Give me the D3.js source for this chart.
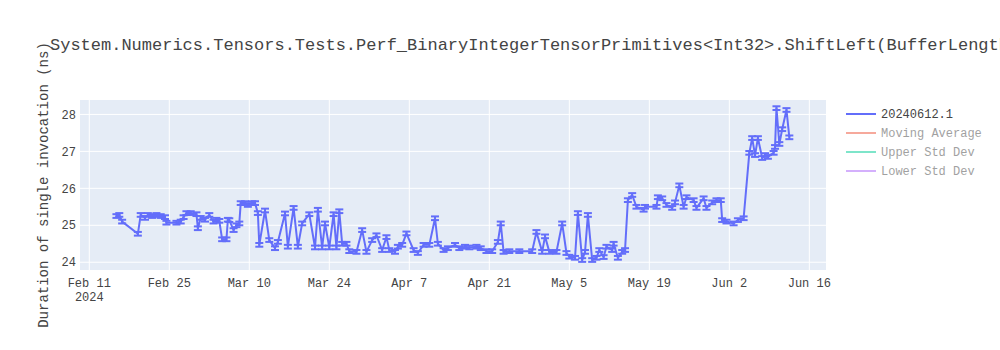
<!DOCTYPE html>
<html>
<head>
<meta charset="utf-8">
<script src="https://cdn.jsdelivr.net/npm/d3@7"></script>
<style>
  body { margin: 0; background: #fff; }
  text { font-family: "Liberation Mono", "Courier New", monospace; fill: #444; }
</style>
</head>
<body>
<div id="chart"></div>
<script>
// one run per point: date (day + hour) and mean duration in ns
const DATES = [
  "2024-02-15 18","2024-02-16 06","2024-02-16 18","2024-02-19 12","2024-02-20 00","2024-02-20 18","2024-02-21 06","2024-02-22 00",
  "2024-02-22 18","2024-02-23 12","2024-02-24 06","2024-02-24 12","2024-02-26 06","2024-02-27 00","2024-02-27 12","2024-02-28 00",
  "2024-02-28 18","2024-02-29 18","2024-03-01 00","2024-03-01 12","2024-03-02 06","2024-03-03 00","2024-03-03 18","2024-03-04 06",
  "2024-03-04 18","2024-03-05 06","2024-03-06 00","2024-03-06 06","2024-03-06 12","2024-03-07 06","2024-03-07 18","2024-03-08 06",
  "2024-03-08 12","2024-03-09 06","2024-03-09 18","2024-03-10 12","2024-03-11 00","2024-03-11 12","2024-03-11 18","2024-03-12 18",
  "2024-03-13 12","2024-03-14 12","2024-03-15 00","2024-03-16 06","2024-03-16 18","2024-03-17 18","2024-03-18 12","2024-03-19 06",
  "2024-03-20 12","2024-03-21 12","2024-03-22 00","2024-03-22 18","2024-03-23 06","2024-03-24 00","2024-03-24 18","2024-03-25 06",
  "2024-03-25 18","2024-03-26 06","2024-03-27 00","2024-03-27 12","2024-03-28 18","2024-03-29 18","2024-03-30 12","2024-03-31 12",
  "2024-04-01 06","2024-04-02 06","2024-04-03 00","2024-04-03 12","2024-04-04 12","2024-04-05 00","2024-04-05 18","2024-04-06 12",
  "2024-04-07 18","2024-04-08 12","2024-04-09 12","2024-04-10 12","2024-04-11 12","2024-04-12 00","2024-04-13 00","2024-04-13 18",
  "2024-04-15 00","2024-04-15 18","2024-04-16 18","2024-04-17 12","2024-04-18 18","2024-04-19 12","2024-04-20 12","2024-04-21 12",
  "2024-04-22 12","2024-04-23 00","2024-04-23 12","2024-04-24 12","2024-04-26 06","2024-04-28 12","2024-04-29 06","2024-04-30 06",
  "2024-04-30 18","2024-05-01 12","2024-05-02 18","2024-05-03 18","2024-05-04 12","2024-05-05 00","2024-05-06 00","2024-05-06 12",
  "2024-05-07 06","2024-05-07 18","2024-05-08 06","2024-05-09 00","2024-05-09 18","2024-05-10 06","2024-05-11 00","2024-05-11 12",
  "2024-05-12 12","2024-05-12 18","2024-05-13 12","2024-05-14 06","2024-05-14 18","2024-05-15 06","2024-05-16 00","2024-05-16 18",
  "2024-05-18 00","2024-05-18 06","2024-05-20 06","2024-05-20 12","2024-05-21 06","2024-05-22 00","2024-05-23 00","2024-05-23 12",
  "2024-05-24 06","2024-05-25 00","2024-05-25 12","2024-05-26 18","2024-05-27 06","2024-05-28 12","2024-05-29 00","2024-05-30 00",
  "2024-05-30 18","2024-05-31 12","2024-05-31 18","2024-06-01 12","2024-06-02 18","2024-06-03 12","2024-06-04 12","2024-06-05 12",
  "2024-06-06 00","2024-06-06 12","2024-06-07 00","2024-06-07 18","2024-06-08 06","2024-06-08 18","2024-06-09 18","2024-06-10 00",
  "2024-06-10 06","2024-06-10 18","2024-06-11 06","2024-06-12 00","2024-06-12 12"
];
const VALUES = [
  25.25, 25.28, 25.10, 24.77, 25.28, 25.20, 25.28, 25.25,
  25.28, 25.25, 25.22, 25.07, 25.07, 25.10, 25.22, 25.33,
  25.33, 25.30, 24.92, 25.20, 25.15, 25.28, 25.10, 25.15,
  25.12, 24.62, 24.62, 25.15, 25.14, 24.87, 25.00, 25.05,
  25.60, 25.60, 25.55, 25.60, 25.60, 25.33, 24.47, 25.40,
  24.60, 24.38, 24.55, 25.32, 24.42, 25.47, 24.42, 25.05,
  25.30, 24.40, 25.42, 24.40, 25.05, 24.40, 25.30, 24.40,
  25.38, 24.50, 24.50, 24.30, 24.28, 24.87, 24.28, 24.60,
  24.73, 24.33, 24.68, 24.33, 24.28, 24.42, 24.47, 24.78,
  24.33, 24.25, 24.47, 24.47, 25.19, 24.50, 24.33, 24.38,
  24.47, 24.38, 24.42, 24.40, 24.42, 24.38, 24.30, 24.30,
  24.55, 25.05, 24.28, 24.30, 24.30, 24.30, 24.82, 24.28,
  24.70, 24.28, 24.28, 25.05, 24.25, 24.15, 24.12, 25.33,
  24.06, 24.28, 25.28, 24.06, 24.12, 24.33, 24.14, 24.42,
  24.33, 24.50, 24.12, 24.28, 24.33, 25.68, 25.82, 25.50,
  25.42, 25.50, 25.50, 25.76, 25.73, 25.55, 25.47, 25.62,
  26.08, 25.50, 25.76, 25.68, 25.47, 25.73, 25.47, 25.62,
  25.68, 25.68, 25.14, 25.10, 25.05, 25.14, 25.19, 26.96,
  27.36, 26.90, 27.36, 26.82, 26.90, 26.85, 26.96, 27.12,
  28.17, 27.20, 27.60, 28.12, 27.38
];
const ERR = 0.05;   // half-length of each error bar (ns)

const X_TICKS = ["2024-02-11 00","2024-02-25 00","2024-03-10 00","2024-03-24 00","2024-04-07 00",
                 "2024-04-21 00","2024-05-05 00","2024-05-19 00","2024-06-02 00","2024-06-16 00"];
const Y_TICKS = [24, 25, 26, 27, 28];

const LEGEND_NAMES  = ["20240612.1", "Moving Average", "Upper Std Dev", "Lower Std Dev"];
const LEGEND_COLORS = ["#636efa", "#EF553B", "#00cc96", "#ab63fa"];
const LEGEND_ON     = [true, false, false, false];

const TITLE = "System.Numerics.Tensors.Tests.Perf_BinaryIntegerTensorPrimitives<Int32>.ShiftLeft(BufferLength: 3079)";

const W = 1000, H = 350;
const M = {top: 100, right: 174, bottom: 80, left: 80};
const iw = W - M.left - M.right, ih = H - M.top - M.bottom;

const parse = d3.timeParse("%Y-%m-%d %H");
const data = DATES.map((d, i) => ({date: parse(d), v: VALUES[i]}));

const svg = d3.select("#chart").append("svg").attr("width", W).attr("height", H);

const x = d3.scaleTime().domain([parse("2024-02-09 09"), parse("2024-06-18 22")]).range([0, iw]);
const y = d3.scaleLinear().domain([23.79, 28.39]).range([ih, 0]);

svg.append("rect").attr("x", M.left).attr("y", M.top).attr("width", iw).attr("height", ih).attr("fill", "#E5ECF6");

const plot = svg.append("g").attr("transform", `translate(${M.left},${M.top})`);
svg.append("defs").append("clipPath").attr("id", "clip")
  .append("rect").attr("width", iw).attr("height", ih);

// grid
const xt = X_TICKS.map(parse);
plot.selectAll(".gx").data(xt).join("line")
  .attr("x1", d => x(d)).attr("x2", d => x(d)).attr("y1", 0).attr("y2", ih)
  .attr("stroke", "#fff").attr("stroke-width", 1);
plot.selectAll(".gy").data(Y_TICKS).join("line")
  .attr("x1", 0).attr("x2", iw).attr("y1", d => y(d)).attr("y2", d => y(d))
  .attr("stroke", "#fff").attr("stroke-width", 1);

// tick labels
const fmt = d3.timeFormat("%b %-d");
const xl = svg.append("g").selectAll("text").data(xt).join("text")
  .attr("x", d => M.left + x(d)).attr("y", M.top + ih + 17)
  .attr("text-anchor", "middle").attr("font-size", 12).text(d => fmt(d));
svg.append("text").attr("x", M.left + x(xt[0])).attr("y", M.top + ih + 31)
  .attr("text-anchor", "middle").attr("font-size", 12).text("2024");
svg.append("g").selectAll("text").data(Y_TICKS).join("text")
  .attr("x", M.left - 4).attr("y", d => M.top + y(d)).attr("dy", "0.35em")
  .attr("text-anchor", "end").attr("font-size", 12).text(d => d);

// series: error bars + line
const series = plot.append("g").attr("clip-path", "url(#clip)");
const col = LEGEND_COLORS[0];
const eb = series.selectAll(".eb").data(data).join("g");
eb.append("line")
  .attr("x1", d => x(d.date)).attr("x2", d => x(d.date))
  .attr("y1", d => y(d.v - ERR)).attr("y2", d => y(d.v + ERR));
eb.append("line")
  .attr("x1", d => x(d.date) - 4).attr("x2", d => x(d.date) + 4)
  .attr("y1", d => y(d.v + ERR)).attr("y2", d => y(d.v + ERR));
eb.append("line")
  .attr("x1", d => x(d.date) - 4).attr("x2", d => x(d.date) + 4)
  .attr("y1", d => y(d.v - ERR)).attr("y2", d => y(d.v - ERR));
eb.selectAll("line").attr("stroke", col).attr("stroke-width", 2);

series.append("path").datum(data)
  .attr("fill", "none").attr("stroke", col).attr("stroke-width", 2).attr("stroke-linejoin", "round")
  .attr("d", d3.line().x(d => x(d.date)).y(d => y(d.v)));

// titles
svg.append("text").attr("x", 50).attr("y", 50).attr("font-size", 17).text(TITLE);
svg.append("text").attr("transform", `translate(48,${M.top + ih / 2}) rotate(-90)`)
  .attr("text-anchor", "middle").attr("font-size", 14).text("Duration of single invocation (ns)");

// legend
const lg = svg.append("g").attr("transform", "translate(846,114)");
LEGEND_NAMES.forEach((n, i) => {
  const row = lg.append("g").attr("transform", `translate(0,${i * 19})`)
    .attr("opacity", LEGEND_ON[i] ? 1 : 0.5);
  row.append("line").attr("x1", 0).attr("x2", 30).attr("y1", 0).attr("y2", 0)
    .attr("stroke", LEGEND_COLORS[i]).attr("stroke-width", 2);
  row.append("text").attr("x", 35).attr("y", 0).attr("dy", "0.35em").attr("font-size", 12).text(n);
});
</script>
</body>
</html>
